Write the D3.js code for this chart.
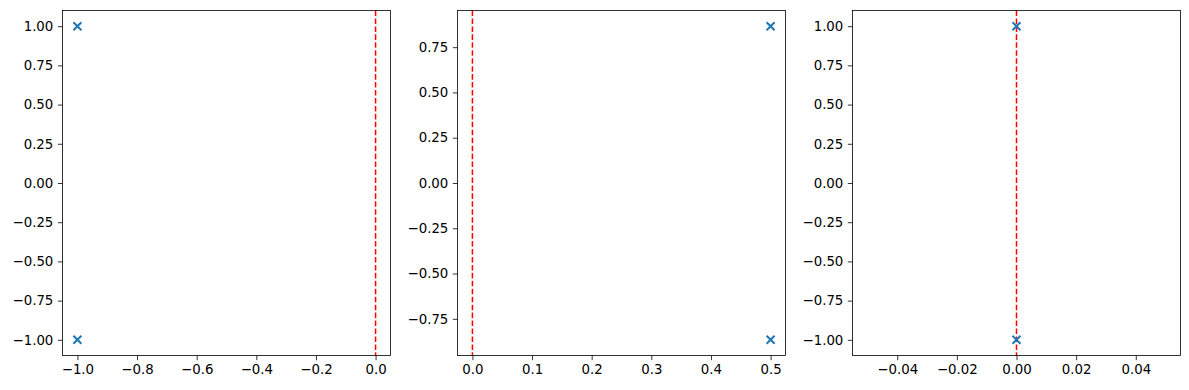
<!DOCTYPE html>
<html><head><meta charset="utf-8">
<script src="https://cdn.jsdelivr.net/npm/d3@7"></script>
<style>body{margin:0;background:#fff}svg{display:block}text{font-family:"DejaVu Sans",sans-serif;font-size:13.33px;fill:#000}</style>
</head><body>
<svg id="c" width="1189" height="390"></svg>
<script>
// Data per panel
const panel1X = [-1, -1];
const panel1Y = [1, -1];
const panel2X = [0.5, 0.5];
const panel2Y = [0.866, -0.866];
const panel3X = [0, 0];
const panel3Y = [1, -1];
const vlineX = [0, 0, 0];
const xDomains = [[-1.05, 0.05], [-0.025, 0.525], [-0.055, 0.055]];
const yDomains = [[-1.1, 1.1], [-0.9526, 0.9526], [-1.1, 1.1]];
const xTicks = [[-1.0, -0.8, -0.6, -0.4, -0.2, 0.0], [0.0, 0.1, 0.2, 0.3, 0.4, 0.5], [-0.04, -0.02, 0.0, 0.02, 0.04]];
const yTicks = [[-1.0, -0.75, -0.5, -0.25, 0, 0.25, 0.5, 0.75, 1.0], [-0.75, -0.5, -0.25, 0, 0.25, 0.5, 0.75], [-1.0, -0.75, -0.5, -0.25, 0, 0.25, 0.5, 0.75, 1.0]];
const xFmt = [".1f", ".1f", ".2f"];
const yFmt = [".2f", ".2f", ".2f"];

(function(){
const panels = [
  {xs: panel1X, ys: panel1Y},
  {xs: panel2X, ys: panel2Y},
  {xs: panel3X, ys: panel3Y}
];
const lefts = [62.5, 457.5, 852.5];
const width = 328, axTop = 10.5, axBottom = 355.5;
const svg = d3.select("#c");
const minus = s => s.replace(/-/g, "\u2212");

panels.forEach((p, i) => {
  const x = d3.scaleLinear().domain(xDomains[i]).range([lefts[i], lefts[i] + width]);
  const y = d3.scaleLinear().domain(yDomains[i]).range([axBottom, axTop]);
  const g = svg.append("g");
  g.append("line").attr("x1", x(vlineX[i])).attr("x2", x(vlineX[i]))
    .attr("y1", axTop).attr("y2", axBottom)
    .attr("stroke", "#ff0000").attr("stroke-width", 1.5).attr("stroke-dasharray", "5.55,2.4");
  p.xs.forEach((xv, j) => {
    const cx = x(xv), cy = y(p.ys[j]), r = 4;
    g.append("path").attr("d", `M${cx-r},${cy-r}L${cx+r},${cy+r}M${cx-r},${cy+r}L${cx+r},${cy-r}`)
      .attr("stroke", "#1f77b4").attr("stroke-width", 2).attr("fill", "none");
  });
  const f = d3.format(xFmt[i]);
  const xa = g.append("g").attr("transform", `translate(0,${axBottom})`)
    .call(d3.axisBottom(x).tickValues(xTicks[i]).tickSize(4.67).tickPadding(4.5).tickFormat(d => minus(f(d))));
  const fy = d3.format(yFmt[i]);
  const ya = g.append("g").attr("transform", `translate(${lefts[i]},0)`)
    .call(d3.axisLeft(y).tickValues(yTicks[i]).tickSize(4.67).tickPadding(4.5).tickFormat(d => minus(fy(d))));
  [xa, ya].forEach(a => {
    a.select(".domain").remove();
    a.selectAll(".tick line").attr("stroke", "#000").attr("stroke-width", 0.8);
    a.selectAll("text").attr("font-family", "DejaVu Sans").attr("font-size", "13.33px").attr("fill", "#000");
  });
  g.append("rect").attr("x", lefts[i]).attr("y", axTop).attr("width", width).attr("height", axBottom - axTop)
    .attr("fill", "none").attr("stroke", "#000").attr("stroke-width", 0.8);
});
})();
</script>
</body></html>
